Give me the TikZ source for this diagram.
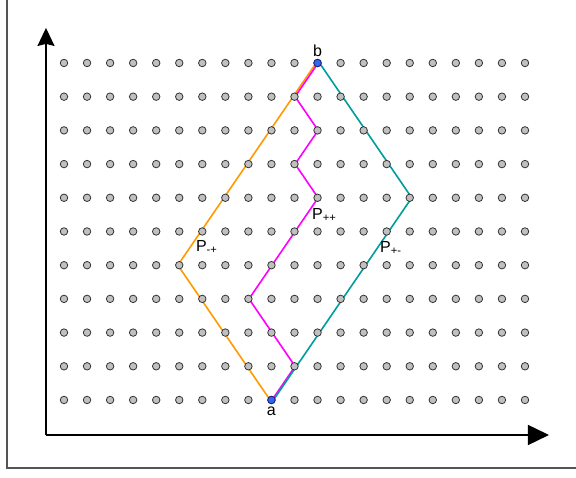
\documentclass[tikz,border=0pt]{standalone}
\usepackage{fontspec}
\setmainfont{Liberation Sans}
\usetikzlibrary{arrows.meta,positioning}
\definecolor{lpframe}{HTML}{555555}
\definecolor{lpdot}{HTML}{C0C0C0}
\definecolor{lpedge}{HTML}{333333}
\definecolor{lpend}{HTML}{3366EE}
\definecolor{lpmp}{HTML}{FF9A00}
\definecolor{lppp}{HTML}{FF00FF}
\definecolor{lppm}{HTML}{009C9C}

\begin{document}
\begin{tikzpicture}[x=23.05pt,y=33.7pt,font=\fontsize{16}{18}\selectfont,
  dot/.style={circle,draw=lpedge,fill=lpdot,line width=0.8pt,minimum size=7.5pt,inner sep=0pt},
  enddot/.style={dot,fill=lpend,draw=lpedge!60!blue},
  lpath/.style={line width=1.6pt,line join=round},
  plabel/.style={anchor=west,inner sep=0pt}]
  \useasboundingbox (-2.7766,-2.3145) rectangle (22.213,11.869);
  \draw[lpframe,line width=1.2pt] (-2.473,11.869) -- (-2.473,-2.018) -- (22.213,-2.018);
  \coordinate (o) at (-0.781,-1.039);
  \draw[line width=1.6pt,-{Stealth[length=18pt,width=17pt,inset=2pt]}] (o) -- (-0.781,11.04);
  \draw[line width=1.6pt,-{Triangle[length=21pt,width=20pt]}] (o) -- (21.04,-1.039);
  \foreach \c in {0,...,20}{\foreach \r in {0,...,10}{\coordinate (p\c-\r) at (\c,\r);}}
  % the three lattice paths from a to b
  \draw[lpath,lpmp,transform canvas={xshift=-1.4pt}] (p9-0) -- (p5-4) -- (p11-10);
  \draw[lpath,lppp,transform canvas={xshift=0.6pt}] (p9-0) -- (p10-1) -- (p8-3) -- (p11-6) -- (p10-7) -- (p11-8) -- (p10-9) -- (p11-10);
  \draw[lpath,lppm,transform canvas={xshift=2pt}] (p9-0) -- (p15-6) -- (p11-10);
  \foreach \c in {0,...,20}{\foreach \r in {0,...,10}{\node[dot] (d\c-\r) at (p\c-\r) {};}}
  \node[enddot] (a) at (p9-0) {};
  \node[enddot] (b) at (p11-10) {};
  \node[below=-1pt of a] (alabel) {a};
  \node[above=-1pt of b] (blabel) {b};
  \node[plabel] (pmp) at (5.72,4.54) {P\textsubscript{-+}};
  \node[plabel] (ppp) at (10.76,5.49) {P\textsubscript{++}};
  \node[plabel] (ppm) at (13.71,4.51) {P\textsubscript{+-}};
\end{tikzpicture}
\end{document}
